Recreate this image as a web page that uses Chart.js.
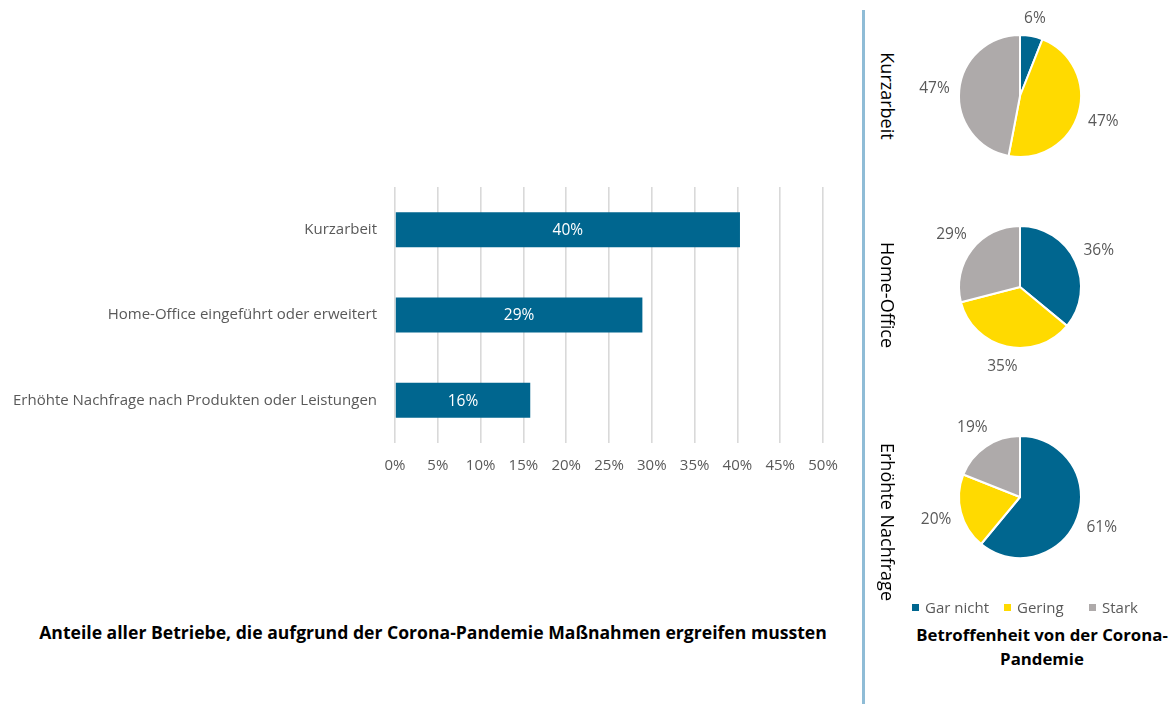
<!DOCTYPE html>
<html lang="de">
<head>
<meta charset="utf-8">
<script src="https://cdn.jsdelivr.net/npm/chart.js@4"></script>
<style>
  body { margin: 0; background: #fff; font-family: "Open Sans", sans-serif; }
  #wrap { position: relative; width: 1172px; height: 704px; overflow: hidden; }
  .abs { position: absolute; }
  .rot { position: absolute; transform: translate(-50%, -50%) rotate(90deg); white-space: nowrap; color: #000; font-size: 18px; }
  .title { position: absolute; font-weight: bold; color: #000; white-space: nowrap; transform: translateX(-50%); }
  .leg { position: absolute; font-size: 15px; color: #595959; white-space: nowrap; }
  .leg i { display: inline-block; width: 7px; height: 7px; margin-right: 6px; vertical-align: 2px; }
</style>
</head>
<body>
<div id="wrap">
  <canvas id="bar-chart" class="abs" style="left:0;top:168px;width:860px;height:320px"></canvas>
  <div class="abs" style="left:862px;top:10px;width:3px;height:694px;background:#8fbcd6"></div>

  <canvas id="pie-0" class="abs" style="left:900px;top:-4px;width:240px;height:200px"></canvas>
  <canvas id="pie-1" class="abs" style="left:900px;top:187px;width:240px;height:200px"></canvas>
  <canvas id="pie-2" class="abs" style="left:900px;top:397px;width:240px;height:200px"></canvas>

  <div class="rot" style="left:888px;top:96px">Kurzarbeit</div>
  <div class="rot" style="left:888px;top:295px">Home-Office</div>
  <div class="rot" style="left:888px;top:522px">Erhöhte Nachfrage</div>

  <div class="leg" style="left:912px;top:597px"><i style="background:#00668f"></i>Gar nicht</div>
  <div class="leg" style="left:1004px;top:597px"><i style="background:#ffda00"></i>Gering</div>
  <div class="leg" style="left:1089px;top:597px"><i style="background:#aeaaaa"></i>Stark</div>

  <div class="title" style="left:1042px;top:623px;font-size:16.8px;line-height:24px;text-align:center">Betroffenheit von der Corona-<br>Pandemie</div>
  <div class="title" style="left:433px;top:620px;font-size:17.6px">Anteile aller Betriebe, die aufgrund der Corona-Pandemie Maßnahmen ergreifen mussten</div>
</div>

<script>
// Daten
const categories = ['Kurzarbeit', 'Home-Office eingeführt oder erweitert', 'Erhöhte Nachfrage nach Produkten oder Leistungen'];
const barValues = [40.3, 28.9, 15.8];
const xTicks = [0, 5, 10, 15, 20, 25, 30, 35, 40, 45, 50];

const pieLabels = ['Gar nicht', 'Gering', 'Stark'];
const pieKurzarbeit = [6, 47, 47];
const pieHomeOffice = [36, 35, 29];
const pieNachfrage = [61, 20, 19];

const blue = '#00668f';
const yellow = '#ffda00';
const grey = '#aeaaaa';
const textGrey = '#595959';

// Prozentwerte in den Balken
const barLabelPlugin = {
    id: 'barLabels',
    afterDatasetsDraw(chart) {
        const ctx = chart.ctx;
        const meta = chart.getDatasetMeta(0);
        ctx.save();
        ctx.fillStyle = '#fff';
        ctx.font = '15.5px "Open Sans"';
        ctx.textAlign = 'center';
        ctx.textBaseline = 'middle';
        meta.data.forEach((bar, i) => {
            const v = chart.data.datasets[0].data[i];
            ctx.fillText(Math.round(v) + '%', (bar.x + bar.base) / 2, bar.y + 1);
        });
        ctx.restore();
    }
};

// Prozentwerte neben den Kreisstücken (Abstand vom Rand wie in Excel)
const pieLabelPlugin = {
    id: 'pieLabels',
    afterDatasetsDraw(chart) {
        const ctx = chart.ctx;
        const meta = chart.getDatasetMeta(0);
        ctx.save();
        ctx.fillStyle = textGrey;
        ctx.font = '15.5px "Open Sans"';
        ctx.textAlign = 'center';
        ctx.textBaseline = 'middle';
        meta.data.forEach((arc, i) => {
            const mid = (arc.startAngle + arc.endAngle) / 2;
            const txt = chart.data.datasets[0].data[i] + '%';
            const w = ctx.measureText(txt).width;
            const c = Math.cos(mid), s = Math.sin(mid);
            const d = arc.outerRadius + 9 + Math.abs(c) * w / 2 + Math.abs(s) * 7.5;
            ctx.fillText(txt, arc.x + c * d, arc.y + s * d + 1);
        });
        ctx.restore();
    }
};

new Chart(document.getElementById('bar-chart'), {
    type: 'bar',
    data: {
        labels: categories,
        datasets: [{
            data: barValues,
            backgroundColor: blue,
            categoryPercentage: 1,
            barPercentage: 0.41
        }]
    },
    options: {
        indexAxis: 'y',
        responsive: false,
        animation: false,
        layout: { padding: { top: 4, right: 37, left: 0, bottom: 0 } },
        plugins: { legend: { display: false }, tooltip: { enabled: false } },
        scales: {
            x: {
                min: 0,
                max: 50,
                afterBuildTicks: (s) => { s.ticks = xTicks.map(v => ({ value: v })); },
                afterFit: (s) => { s.height = 45; },
                grid: { color: '#d9d9d9', lineWidth: 1.6, drawTicks: false },
                border: { display: false },
                ticks: {
                    callback: (v) => v + '%',
                    color: textGrey,
                    font: { family: 'Open Sans', size: 15 },
                    padding: 14,
                    maxRotation: 0
                }
            },
            y: {
                afterFit: (s) => { s.width = 395; },
                grid: { display: false },
                border: { display: false },
                ticks: {
                    color: textGrey,
                    font: { family: 'Open Sans', size: 15 },
                    padding: 10
                }
            }
        }
    },
    plugins: [barLabelPlugin]
});

[pieKurzarbeit, pieHomeOffice, pieNachfrage].forEach((values, i) => {
    new Chart(document.getElementById('pie-' + i), {
        type: 'pie',
        data: {
            labels: pieLabels,
            datasets: [{
                data: values,
                backgroundColor: [blue, yellow, grey],
                borderColor: '#fff',
                borderWidth: 2
            }]
        },
        options: {
            responsive: false,
            animation: false,
            layout: { padding: { top: 38, bottom: 38 } },
            plugins: { legend: { display: false }, tooltip: { enabled: false } }
        },
        plugins: [pieLabelPlugin]
    });
});
</script>
</body>
</html>
